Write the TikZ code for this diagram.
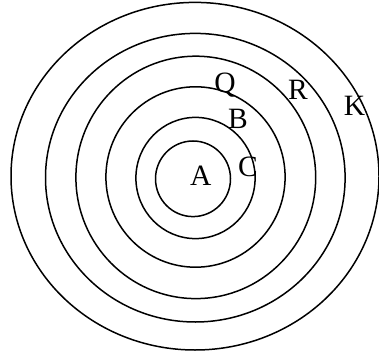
\documentclass[tikz,border=0pt]{standalone}
\usepackage{fontspec}
\setmainfont{Liberation Serif}
\begin{document}
\begin{tikzpicture}[x=1pt,y=-1pt,
  ring/.style={draw=black,line width=1.5pt},
  lbl/.style={inner sep=0pt,anchor=base,font=\fontsize{29.5}{31}\selectfont}]
\useasboundingbox (0,0) rectangle (379,352);
\draw[ring] (193,178.8) ellipse [x radius=37.5, y radius=37.8];
\draw[ring] (195.5,178) ellipse [x radius=59.6, y radius=60.6];
\draw[ring] (195.5,177) ellipse [x radius=89.6, y radius=90.2];
\draw[ring] (195.8,177.4) ellipse [x radius=119.9, y radius=121.2];
\draw[ring] (195.3,177.7) ellipse [x radius=149.8, y radius=144.3];
\draw[ring] (195,176.2) ellipse [x radius=184, y radius=173.8];
\node[lbl] (a) at (200.7,186) {A};
\node[lbl] (c) at (248,177) {C};
\node[lbl] (b) at (238,129) {B};
\node[lbl] (q) at (225,92.5) {Q};
\node[lbl] (r) at (298,100) {R};
\node[lbl] (k) at (354.5,116) {K};
\end{tikzpicture}
\end{document}
